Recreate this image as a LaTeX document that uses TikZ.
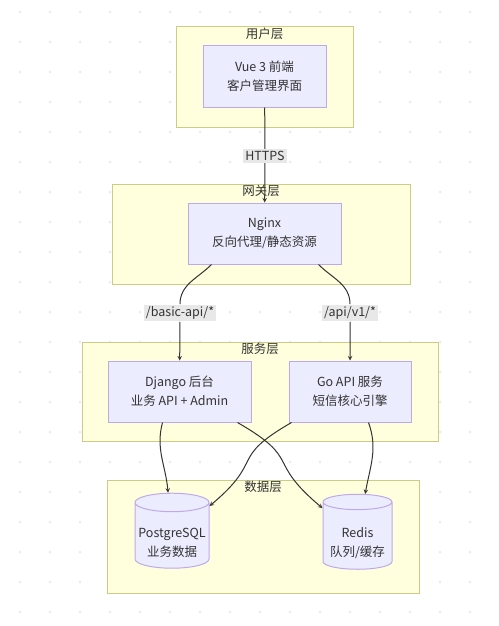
\documentclass[tikz,border=0pt]{standalone}
\usepackage{fontspec}
\setmainfont{Noto Sans CJK SC}
\usetikzlibrary{shapes.geometric}

\definecolor{layerfill}{HTML}{FFFFDE}
\definecolor{layerline}{RGB}{204,204,133}
\definecolor{nodefill}{HTML}{ECECFF}
\definecolor{nodeline}{RGB}{190,169,233}
\definecolor{edgec}{HTML}{333333}
\definecolor{labelbg}{HTML}{E8E8E8}
\definecolor{dotc}{HTML}{EBEBEB}

\newcommand{\dbtext}[2]{\raisebox{-6pt}[\height][\depth]{\begin{tabular}{@{}c@{}}#1\\#2\end{tabular}}}

\begin{document}
\begin{tikzpicture}[x=1pt,y=1pt,>=stealth,thick,
    every node/.style={font=\fontsize{12.5}{19}\selectfont,text=edgec},
    layer/.style={rectangle,draw=layerline,fill=layerfill,line width=1pt},
    box/.style={rectangle,draw=nodeline,fill=nodefill,line width=1pt,align=center,minimum height=61},
    db/.style={cylinder,shape border rotate=90,aspect=0.25,draw=nodeline,fill=nodefill,line width=1pt},
    tag/.style={fill=labelbg,inner sep=2pt},
    link/.style={->,draw=edgec,line width=1pt}]

            \useasboundingbox (0,0) rectangle (498,-626);
            \foreach \x in {20,50,...,470}
                \foreach \y in {12,42,...,612}
                    \fill[dotc] (\x,-\y) circle (1.5pt);

            % layers
            \node[layer, minimum width=177, minimum height=100, label={[anchor=north,inner sep=1pt]north:用户层}] (a) at (264.5,-77) {};
            \node[layer, minimum width=298, minimum height=100, label={[anchor=north,inner sep=1pt]north:网关层}] (b) at (261,-234) {};
            \node[layer, minimum width=356, minimum height=99, label={[anchor=north,inner sep=1pt]north:服务层}] (c) at (260,-391.5) {};
            \node[layer, minimum width=312, minimum height=113, label={[anchor=north,inner sep=1pt]north:数据层}] (d) at (263,-536.5) {};

            \node[box, minimum width=123] (1) at (264.5,-76.5) {Vue 3 前端\\客户管理界面};
            \node[box, minimum width=153] (2) at (264.5,-233.5) {Nginx\\反向代理/静态资源};
            \node[box, minimum width=143] (3) at (179.5,-391.5) {Django 后台\\业务 API + Admin};
            \node[box, minimum width=122] (4) at (350,-391.5) {Go API 服务\\短信核心引擎};
            \node[db, minimum width=74, minimum height=75] (5) at (172,-537.5) {\dbtext{PostgreSQL}{业务数据}};
            \node[db, minimum width=69, minimum height=75] (6) at (357.5,-537.5) {\dbtext{Redis}{队列/缓存}};

            \node[tag] (h) at (265,-156) {HTTPS};
            \node[tag] (l1) at (180,-313) {/basic-api/*};
            \node[tag] (l2) at (350,-313) {/api/v1/*};

            \draw[link] (1) -- (h) -- (2);
            \draw[link] ([xshift=24pt]2.south west) to[out=-135,in=90] (l1) -- (3);
            \draw[link] ([xshift=-23pt]2.south east) to[out=-45,in=90] (l2) -- (4);
            \draw[link] ([xshift=55pt]3.south west) to[out=-105,in=95] (5);
            \draw[link] ([xshift=-14pt]3.south east) to[out=-30,in=140,looseness=1.6] (6);
            \draw[link] ([xshift=3pt]4.south west) to[out=-150,in=40,looseness=1.6] (5);
            \draw[link] ([xshift=-43pt]4.south east) to[out=-70,in=80] (6);

            ;
        \end{tikzpicture}
\end{document}
